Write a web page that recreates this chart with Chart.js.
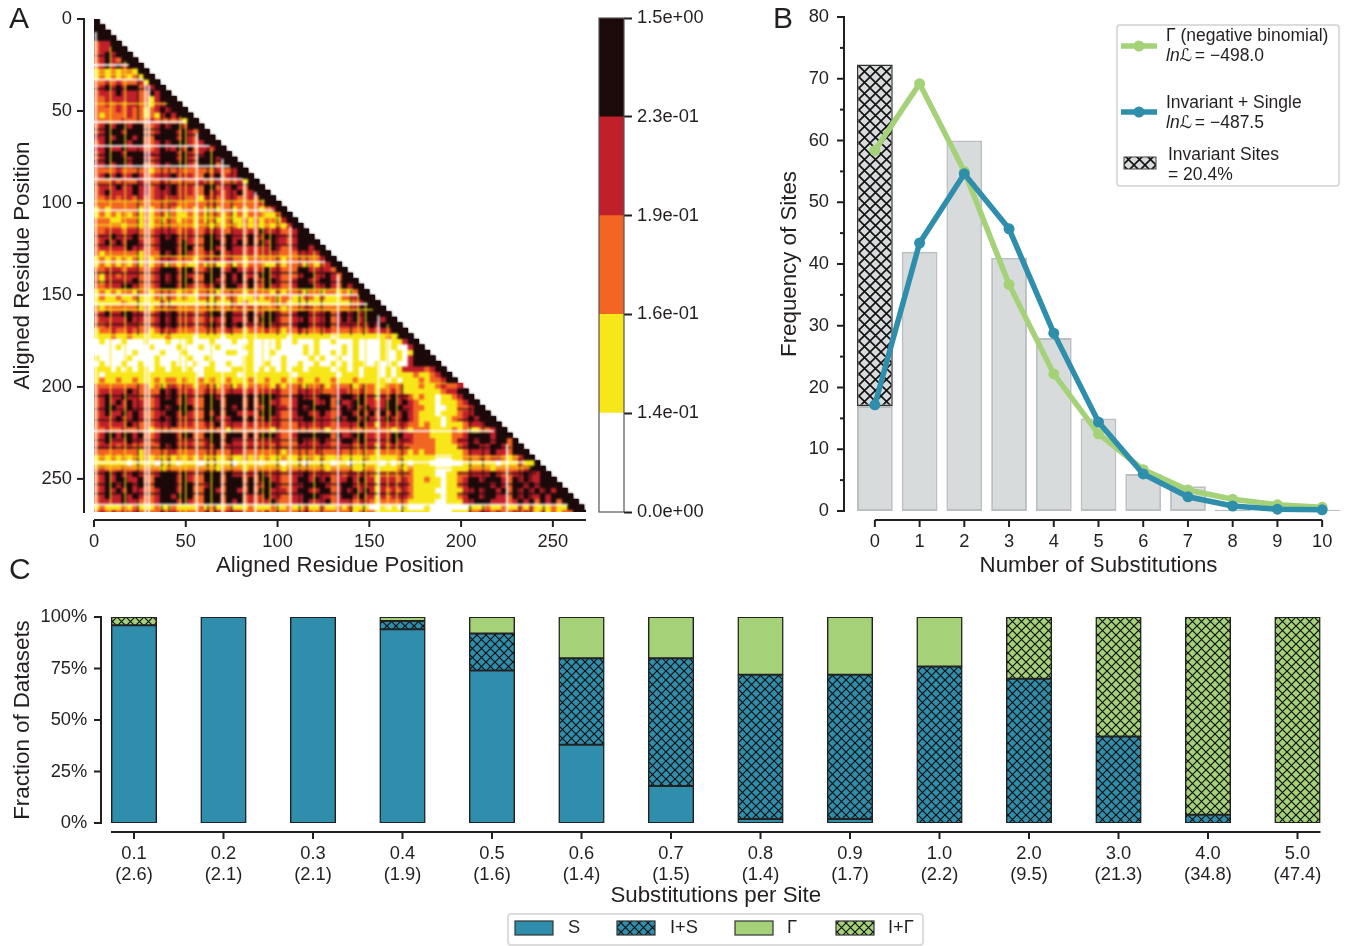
<!DOCTYPE html>
<html>
<head>
<meta charset="utf-8">
<script src="https://cdn.jsdelivr.net/npm/chart.js@4"></script>
<style>
  html, body { margin: 0; padding: 0; background: #fff; overflow: hidden; }
  #page { position: relative; width: 1350px; height: 946px; }
  canvas { position: absolute; }
  .letter { position: absolute; font: 30px "Liberation Sans", Arial, sans-serif; color: #231f20; line-height: 30px; }
</style>
</head>
<body>
<div id="page">
  <canvas id="panelA" width="590" height="590" style="left:0;top:0"></canvas>
  <canvas id="colorbar" width="130" height="530" style="left:590px;top:0"></canvas>
  <canvas id="panelB" width="590" height="590" style="left:760px;top:0"></canvas>
  <canvas id="panelC" width="1350" height="356" style="left:0;top:590px"></canvas>
  <div class="letter" style="left:9px;top:3px">A</div>
  <div class="letter" style="left:773px;top:3px">B</div>
  <div class="letter" style="left:9px;top:554px">C</div>
</div>
<script>
// Panel A: class of each 3-residue cell, lower triangle
// 0 white, 1 yellow, 2 orange, 3 red, 4 black
const matrixRows = [
  "4", "44", "444", "4444", "23344", "233444", "2343444", "23432444", "234343444", "1212122144",
  "12121212144", "223232223144", "2343434423344", "23334333224344", "223333332213444", "2232323322133444",
  "22223232212343444", "212222322121343444", "2222232222322223144",
  "2343443442 2343443444",
  "2344434442 2344434324 4",
  "3343444342 2444434324 44",
  "2344443442 2343444323 444",
  "3343343332 2343343423 3344",
  "2344434443 3344434323 44444",
  "2344443443 2344434324 443444",
  "3343443442 2343444324 4424444",
  "2222322222 1222232222 22322344",
  "2343433432 2333433322 434233444",
  "2223232232 2232223223 2232223144",
  "2333433433 2343433322 4423343244 4",
  "2343333433 2333433322 4332334234 44",
  "2233233232 2332333221 3322332232 444",
  "2222222222 2222322222 2322222222 3444",
  "1212222212 1222212212 1212212122 12344",
  "1212121212 1221211212 1221212122 211244",
  "2221122212 1212212212 1211211212 1221344",
  "2222212212 1222222212 2121221212 12121344",
  "2233323322 2333323322 3332233232 433322344",
  "2334333422 2343433322 4432433242 3443323444",
  "2343434432 2344434322 4442434242 4343323444 4",
  "2333334332 2344434422 4432433232 3343223443 44",
  "2122222212 2243434322 3342333232 3332222333 344",
  "1212121212 1233323212 3332322122 2222122222 2344",
  "1212121212 1221212112 1211212122 2112122212 12344",
  "2233323322 2344434422 3442343232 3433222443 333244",
  "2133233322 2343434322 4442434232 4433222344 3343244",
  "2133333422 2343434422 4432434242 3443223443 34432444",
  "2233344322 2344434322 3342443242 3433223444 334324344",
  "1212122122 1222212212 2212222122 2212122212 2122121244",
  "1211211211 1212212112 2121221112 1221221122 1211122344 4",
  "1111121111 1121111111 1111121211 1121211111 1111111234 44",
  "2122222212 1222322222 2222223232 3222122233 2222222344 444",
  "2343344332 2343433322 3442433242 3443223443 3342343434 4444",
  "2333334332 2343433322 3332433242 4443223343 3342343434 44344",
  "2233333322 2343433322 3432434232 3433223443 3342333333 434444",
  "1223223222 1232322222 2322322122 2322122322 2232222222 3233444",
  "1112112111 1112111101 1110111111 1111101111 1110111111 11121444",
  "0100010001 0001000100 0100010010 0001001000 1001000100 001011344",
  "0000100000 1000010001 0010000110 0001000010 1000010100 0010100344",
  "0000000100 0010001000 0000110010 0010000010 1001010100 0010010144 4",
  "1000001000 0100000100 1000000110 0000100001 0100100100 0010010344 44",
  "0100010010 0100100010 0100100110 0100100100 1001010110 0100100344 444",
  "1110101011 0110110100 1100011110 1010101101 1110110101 1101013333 2344",
  "1011111111 1111111110 1111110111 1111110111 1111011101 1101011121 12344",
  "1211211211 1212212112 1211211121 1211211211 2112111211 1110101112 122344",
  "2222222222 1212323212 2212212122 2212122212 2212222122 2112221112 1123223",
  "2333334322 2243433322 3322333232 3333222333 3222332232 2122321111 11123344",
  "2343343322 2343434322 4432444242 4443223433 3442344343 3133433212 110112344",
  "2343434332 2344434322 4442444242 4433223444 3342433443 3234434321 1101112344",
  "2344334332 2343444422 4442434242 3443323434 4442343434 3234443322 1100112234 4",
  "2343343432 2334434322 4342443232 4443223443 3432344343 4243434321 1101112334 44",
  "2333433432 2343433322 4432344242 3433223344 3332434434 3234334321 1110122343 444",
  "2333334322 2333433322 3342333232 3333222333 3332333343 3133333221 2110111233 3444",
  "2232232222 1222222222 2222122222 2212222222 2212222222 2222122122 2111121211 22344",
  "2344344342 2344434422 4442444242 4443223444 4442433443 3233443322 2111122344 443444",
  "2343334332 2344433322 3442433232 3333222433 3432344343 3233433322 2211123343 4434424",
  "2333233222 2243433322 3342333232 3323222333 3332333233 3132332222 2211112344 33443244",
  "2222222212 2222322222 2322233222 2222122222 3222322222 2122222121 2211111233 334332444",
  "1212121212 1212121212 1211211212 1211211212 1211211112 1111121111 1100011222 3233212344",
  "1111110111 1011101110 1111101111 0111011101 1110110111 1101011011 1000000111 1110111211 4",
  "2322232222 2212222222 2212222122 2222122222 2212222112 2111121211 1100011122 2212222234 44",
  "2343433432 2344434322 4442433232 4333223343 3332323333 2122222211 1100112233 3343223343 344",
  "2343443342 2444434322 4442444242 4433223443 4342334343 3133323211 2110112344 3444324343 3444",
  "2344344342 2444434422 3442444242 3443223344 4432344333 3133333211 1110112344 4434324434 34444",
  "2343434332 2344434422 4432443242 4433323443 3442343434 3132323211 1100111334 3443424343 434344",
  "2343343432 2344344422 4442444232 3433223344 4332344343 3132333211 1110112344 3443324343 3434444",
  "2333343322 2344434322 4442434232 3342223343 3342333233 2122222111 1100111334 4433323434 24342444",
  "1211121211 1211211112 1211211121 1121121121 1211212111 0010101000 1000000011 1211211212 111211444",
  "2323232322 2232322222 3232333222 2322222232 2222222122 2111111111 1000011122 3323223232 1212122444"
];
const matrixCellSize = 3;
const matrixTicks = [0, 50, 100, 150, 200, 250];
// residues of the thin streaks across the matrix
const paleRows = [25, 33, 56, 69, 80, 87, 104, 132, 150, 155, 224, 241, 264];
const paleColumns = [1, 28, 30, 56, 70, 82, 88, 107, 133, 155, 225];
const yellowRows = [28, 30, 46, 99, 108, 112, 129, 147, 158, 172, 198, 238, 244];
const yellowColumns = [9, 17, 47, 50, 64, 92, 96, 120, 144, 148, 160, 165];
const darkRows = [20, 38, 60, 63, 74, 77, 90, 118, 123, 138, 143, 161, 166, 205, 212, 218, 229, 233, 247, 253, 258];
const darkColumns = [24, 37, 41, 62, 66, 75, 100, 112, 116, 124, 140, 147, 168, 205, 212, 232, 238, 245];

// colour bar
const levelColors = ['#ffffff', '#f7e619', '#f26522', '#c0202a', '#1c0a0b'];
const colorbarLabels = ['0.0e+00', '1.4e-01', '1.6e-01', '1.9e-01', '2.3e-01', '1.5e+00'];

// Panel B
const substitutionCounts = ['0', '1', '2', '3', '4', '5', '6', '7', '8', '9', '10'];
const siteFrequency = [17, 42, 60, 41, 28, 15, 6, 4, 0.2, 0.1, 0.2];
const invariantSites = [[17, 72.3], null, null, null, null, null, null, null, null, null, null];
const gammaFit = [58.4, 69.2, 55, 36.7, 22.2, 12.5, 6.7, 3.4, 1.9, 1.0, 0.6];
const singleFit = [17.2, 43.4, 54.6, 45.7, 28.8, 14.4, 6.0, 2.3, 0.8, 0.3, 0.2];

// Panel C
const substitutionsPerSite = ['0.1', '0.2', '0.3', '0.4', '0.5', '0.6', '0.7', '0.8', '0.9', '1.0', '2.0', '3.0', '4.0', '5.0'];
const meanPerSite = ['(2.6)', '(2.1)', '(2.1)', '(1.9)', '(1.6)', '(1.4)', '(1.5)', '(1.4)', '(1.7)', '(2.2)', '(9.5)', '(21.3)', '(34.8)', '(47.4)'];
const fractionS = [96, 100, 100, 94, 74, 38, 18, 2, 2, 0, 0, 0, 0, 0];
const fractionIS = [0, 0, 0, 4, 18, 42, 62, 70, 70, 76, 70, 42, 4, 0];
const fractionG = [0, 0, 0, 2, 8, 20, 20, 28, 28, 24, 0, 0, 0, 0];
const fractionIG = [4, 0, 0, 0, 0, 0, 0, 0, 0, 0, 30, 58, 96, 100];

const BLUE = '#2f8eab';
const GREEN = '#a5d279';
const INK = '#231f20';
const FONT = '"Liberation Sans", Arial, sans-serif';
const TICK_SIZE = 18.3;
const TITLE_SIZE = 22.3;

Chart.defaults.animation = false;
Chart.defaults.events = [];
Chart.defaults.color = INK;
Chart.defaults.font.family = FONT;
Chart.defaults.plugins.legend.display = false;
Chart.defaults.plugins.tooltip.enabled = false;

function makeHatch(bg, period, weight) {
  const tile = document.createElement('canvas');
  tile.width = tile.height = period;
  const t = tile.getContext('2d');
  t.fillStyle = bg;
  t.fillRect(0, 0, period, period);
  t.strokeStyle = '#111';
  t.lineWidth = weight;
  t.beginPath();
  t.moveTo(0, 0); t.lineTo(period, period);
  t.moveTo(period, 0); t.lineTo(0, period);
  t.stroke();
  return t.createPattern(tile, 'repeat');
}

// detached spines like the reference: axis lines sit a few px off the plot
const spines = {
  id: 'spines',
  afterDraw(chart, args, o) {
    const { ctx, scales: { x, y } } = chart;
    ctx.save();
    ctx.strokeStyle = INK;
    ctx.lineWidth = 2;
    const seg = (x0, y0, x1, y1) => { ctx.beginPath(); ctx.moveTo(x0, y0); ctx.lineTo(x1, y1); ctx.stroke(); };
    seg(o.yAt, y.top - 1, o.yAt, y.bottom + 1);
    y.ticks.forEach((t, i) => { const p = y.getPixelForTick(i); seg(o.yAt - 7, p, o.yAt, p); });
    (o.yMinor || []).forEach(v => { const p = y.getPixelForValue(v); seg(o.yAt - 4, p, o.yAt, p); });
    const x0 = o.xSpan ? o.xSpan(x)[0] : x.left;
    const x1 = o.xSpan ? o.xSpan(x)[1] : x.right;
    seg(x0, o.xAt, x1, o.xAt);
    x.ticks.forEach((t, i) => { const p = x.getPixelForTick(i); seg(p, o.xAt, p, o.xAt + 7); });
    ctx.restore();
  }
};

// fixed axis boxes so the plot areas land where the reference has them
function fixedAxes(left, xHeight) {
  return {
    y: scale => { scale.width = left; scale.paddingTop = 0; scale.paddingBottom = 0; },
    x: scale => { scale.height = xHeight; scale.paddingLeft = 0; scale.paddingRight = 0; }
  };
}

// Panel A
const cells = [];
const cellColors = [];
matrixRows.forEach((row, r) => {
  row.replace(/ /g, '').split('').forEach((level, c) => {
    cells.push({ x: (c + 0.5) * matrixCellSize, y: (r + 0.5) * matrixCellSize });
    cellColors.push(levelColors[+level]);
  });
});

const GAP = { x: null, y: null };
function streakPoints(rows, columns, skipLightBand) {
  const pts = [];
  rows.forEach(r => {
    if (skipLightBand && r > 198) pts.push({ x: 0, y: r }, { x: 172, y: r }, GAP, { x: 198, y: r }, { x: r - 6, y: r }, GAP);
    else pts.push({ x: 0, y: r }, { x: r - 6, y: r }, GAP);
  });
  columns.forEach(c => {
    if (skipLightBand && c < 172) pts.push({ x: c, y: c + 6 }, { x: c, y: 172 }, GAP, { x: c, y: 198 }, { x: c, y: 268 }, GAP);
    else pts.push({ x: c, y: c + 6 }, { x: c, y: 268 }, GAP);
  });
  return pts;
}
const streak = (pts, color, width, order) => ({
  data: pts, showLine: true, spanGaps: false, pointRadius: 0, borderColor: color, borderWidth: width, order
});

const softenMatrix = {
  id: 'softenMatrix',
  afterDatasetsDraw(chart) {
    const { ctx, chartArea: a } = chart;
    ctx.save();
    ctx.beginPath();
    ctx.rect(a.left, a.top, a.right - a.left, a.bottom - a.top);
    ctx.clip();
    ctx.filter = 'blur(1.2px)';
    ctx.drawImage(ctx.canvas, 0, 0);
    ctx.restore();
  }
};

const fitA = fixedAxes(94, 78);
new Chart(document.getElementById('panelA'), {
  type: 'scatter',
  data: {
    datasets: [
      streak(streakPoints(paleRows, paleColumns, false), '#ffffff', 1.8, 0),
      streak(streakPoints(yellowRows, yellowColumns, false), '#f7e619', 1.2, 1),
      streak(streakPoints(darkRows, darkColumns, true), 'rgba(28,10,11,0.75)', 1.6, 2),
      { data: cells, pointStyle: 'rect', pointRadius: 4.1, pointBorderWidth: 0, pointBackgroundColor: cellColors, order: 3 }
    ]
  },
  options: {
    responsive: false,
    layout: { padding: { top: 19, right: 2 } },
    scales: {
      x: {
        type: 'linear', min: 0, max: 268, afterFit: fitA.x,
        grid: { display: false, drawTicks: false }, border: { display: false },
        afterBuildTicks: s => { s.ticks = matrixTicks.map(v => ({ value: v })); },
        ticks: { font: { size: TICK_SIZE }, padding: 19, maxRotation: 0, autoSkip: false, includeBounds: false },
        title: { display: true, text: 'Aligned Residue Position', font: { size: TITLE_SIZE }, padding: { bottom: 11 } }
      },
      y: {
        type: 'linear', min: 0, max: 268, reverse: true, afterFit: fitA.y,
        grid: { display: false, drawTicks: false }, border: { display: false },
        afterBuildTicks: s => { s.ticks = matrixTicks.map(v => ({ value: v })); },
        ticks: { font: { size: TICK_SIZE }, padding: 22, autoSkip: false, includeBounds: false },
        title: { display: true, text: 'Aligned Residue Position', font: { size: TITLE_SIZE }, padding: { top: 9 } }
      }
    },
    plugins: { spines: { yAt: 84, xAt: 520 } }
  },
  plugins: [softenMatrix, spines]
});

// colour bar: one stacked segment per level, ticks on the boundaries
new Chart(document.getElementById('colorbar'), {
  type: 'bar',
  data: {
    labels: [''],
    datasets: levelColors.map(color => ({ data: [1], backgroundColor: color, barPercentage: 1, categoryPercentage: 1 }))
  },
  options: {
    responsive: false,
    layout: { padding: { top: 18, left: 9, bottom: 18 } },
    scales: {
      x: { stacked: true, display: false },
      y: {
        stacked: true, position: 'right', min: 0, max: 5,
        afterFit: s => { s.width = 96; s.paddingTop = 0; s.paddingBottom = 0; },
        grid: { drawOnChartArea: false, tickColor: INK, tickWidth: 2, tickLength: 8 },
        border: { display: false },
        ticks: { stepSize: 1, padding: 5, font: { size: TICK_SIZE }, callback: v => colorbarLabels[v] }
      }
    }
  },
  plugins: [{
    id: 'barFrame',
    afterDatasetsDraw(chart) {
      const { ctx, chartArea: a } = chart;
      ctx.save();
      ctx.strokeStyle = '#555';
      ctx.lineWidth = 1.2;
      ctx.strokeRect(a.left, a.top, a.right - a.left, a.bottom - a.top);
      ctx.restore();
    }
  }]
});

// Panel B
const hatchGray = makeHatch('#d8dbdc', 11, 1.6);
const legendB = {
  id: 'legendB',
  afterDraw(chart) {
    const { ctx } = chart;
    const ox = -760;
    ctx.save();
    ctx.fillStyle = '#fff';
    ctx.strokeStyle = '#dcdcdc';
    ctx.lineWidth = 2;
    ctx.beginPath();
    ctx.roundRect(1117 + ox, 25, 222, 161, 3);
    ctx.fill(); ctx.stroke();
    const swatch = (color, y) => {
      ctx.strokeStyle = color; ctx.fillStyle = color; ctx.lineWidth = 5.5;
      ctx.beginPath(); ctx.moveTo(1121 + ox, y); ctx.lineTo(1157 + ox, y); ctx.stroke();
      ctx.beginPath(); ctx.arc(1139 + ox, y, 5.5, 0, Math.PI * 2); ctx.fill();
    };
    swatch(GREEN, 46);
    swatch(BLUE, 112);
    ctx.fillStyle = hatchGray;
    ctx.strokeStyle = '#444'; ctx.lineWidth = 1;
    ctx.fillRect(1124 + ox, 157, 32, 12);
    ctx.strokeRect(1124 + ox, 157, 32, 12);
    ctx.fillStyle = INK;
    const plain = '17.5px ' + FONT;
    const ital = 'italic 17.5px ' + FONT + ', "DejaVu Sans"';
    const text = (s, x, y, f) => { ctx.font = f; ctx.fillText(s, x + ox, y); };
    text('\u0393 (negative binomial)', 1166, 41, plain);
    text('ln\u2112', 1166, 61, ital);
    text(' = \u2212498.0', 1190, 61, plain);
    text('Invariant + Single', 1166, 108, plain);
    text('ln\u2112', 1166, 128, ital);
    text(' = \u2212487.5', 1190, 128, plain);
    text('Invariant Sites', 1168, 160, plain);
    text('= 20.4%', 1168, 180, plain);
    ctx.restore();
  }
};

const fitB = fixedAxes(92.5, 79);
new Chart(document.getElementById('panelB'), {
  type: 'bar',
  data: {
    labels: substitutionCounts,
    datasets: [
      { type: 'line', data: singleFit, borderColor: BLUE, backgroundColor: BLUE, borderWidth: 5.5, pointRadius: 5.5, pointBorderWidth: 0, tension: 0, order: 0, clip: false },
      { type: 'line', data: gammaFit, borderColor: GREEN, backgroundColor: GREEN, borderWidth: 5.5, pointRadius: 5.5, pointBorderWidth: 0, tension: 0, order: 1, clip: false },
      { data: invariantSites, backgroundColor: hatchGray, borderColor: '#333', borderWidth: 1.5, borderSkipped: false, barPercentage: 0.8, categoryPercentage: 1, grouped: false, order: 2 },
      { data: siteFrequency, backgroundColor: '#d8dbdc', borderColor: '#bcbfc2', borderWidth: 2, borderSkipped: false, barPercentage: 0.8, categoryPercentage: 1, grouped: false, order: 3 }
    ]
  },
  options: {
    responsive: false,
    layout: { padding: { top: 17, right: 3.5 } },
    scales: {
      x: {
        offset: true, afterFit: fitB.x,
        grid: { display: false, drawTicks: false }, border: { display: false },
        ticks: { font: { size: TICK_SIZE }, padding: 20, maxRotation: 0, autoSkip: false },
        title: { display: true, text: 'Number of Substitutions', font: { size: TITLE_SIZE }, padding: { bottom: 11 } }
      },
      y: {
        min: 0, max: 80, afterFit: fitB.y,
        grid: { display: false, drawTicks: false }, border: { display: false },
        ticks: { stepSize: 10, font: { size: TICK_SIZE }, padding: 23.5 },
        title: { display: true, text: 'Frequency of Sites', font: { size: TITLE_SIZE }, padding: { top: 16 } }
      }
    },
    plugins: {
      spines: {
        yAt: 84, xAt: 520,
        yMinor: [5, 15, 25, 35, 45, 55, 65, 75],
        xSpan: s => [s.getPixelForTick(0), s.getPixelForTick(10)]
      }
    }
  },
  plugins: [spines, legendB]
});

// Panel C
const hatchBlue = makeHatch(BLUE, 9, 1.2);
const hatchGreen = makeHatch(GREEN, 9, 1.2);
const barStyle = { borderColor: '#222', borderWidth: 1.5, borderSkipped: false, inflateAmount: 0.5, barPercentage: 0.505, categoryPercentage: 1 };
const legendC = {
  id: 'legendC',
  afterDraw(chart) {
    const { ctx, data } = chart;
    const swatchX = [515, 617, 735, 836];
    const textX = [568, 670, 787, 888];
    ctx.save();
    ctx.strokeStyle = '#dcdcdc';
    ctx.lineWidth = 2;
    ctx.beginPath();
    ctx.roundRect(508, 324, 415, 31, 3);
    ctx.stroke();
    ctx.font = TICK_SIZE + 'px ' + FONT;
    ctx.textBaseline = 'middle';
    data.datasets.forEach((d, i) => {
      ctx.fillStyle = d.backgroundColor;
      ctx.fillRect(swatchX[i], 331, 38, 14);
      ctx.strokeStyle = '#333';
      ctx.lineWidth = 1.2;
      ctx.strokeRect(swatchX[i], 331, 38, 14);
      ctx.fillStyle = INK;
      ctx.fillText(d.label, textX[i], 338);
    });
    ctx.restore();
  }
};

const fitC = fixedAxes(89.25, 123);
new Chart(document.getElementById('panelC'), {
  type: 'bar',
  data: {
    labels: substitutionsPerSite.map((s, i) => [s, meanPerSite[i]]),
    datasets: [
      { label: 'S', data: fractionS, backgroundColor: BLUE, ...barStyle },
      { label: 'I+S', data: fractionIS, backgroundColor: hatchBlue, ...barStyle },
      { label: '\u0393', data: fractionG, backgroundColor: GREEN, ...barStyle },
      { label: 'I+\u0393', data: fractionIG, backgroundColor: hatchGreen, ...barStyle }
    ]
  },
  options: {
    responsive: false,
    layout: { padding: { top: 27, right: 7.75 } },
    scales: {
      x: {
        stacked: true, offset: true, afterFit: fitC.x,
        grid: { display: false, drawTicks: false }, border: { display: false },
        ticks: { font: { size: TICK_SIZE, lineHeight: 1.15 }, padding: 20, maxRotation: 0, autoSkip: false },
        title: { display: true, text: 'Substitutions per Site', font: { size: TITLE_SIZE }, padding: { bottom: 37 } }
      },
      y: {
        stacked: true, min: 0, max: 100, afterFit: fitC.y,
        grid: { display: false, drawTicks: false }, border: { display: false },
        ticks: { stepSize: 25, font: { size: TICK_SIZE }, padding: 2, callback: v => v + '%' },
        title: { display: true, text: 'Fraction of Datasets', font: { size: TITLE_SIZE }, padding: { top: 9 } }
      }
    },
    plugins: {
      spines: {
        yAt: 101, xAt: 242,
        xSpan: s => [s.getPixelForTick(0) - 23, s.getPixelForTick(13) + 23]
      }
    }
  },
  plugins: [spines, legendC]
});
</script>
</body>
</html>
